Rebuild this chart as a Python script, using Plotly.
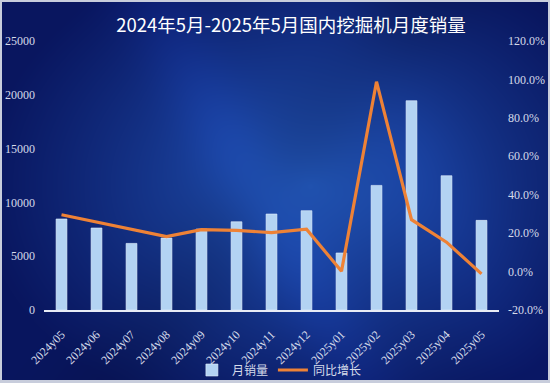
import base64
import struct
import zlib

import numpy as np
import plotly.graph_objects as go

# ---------------- data ----------------
months = ["2024y05", "2024y06", "2024y07", "2024y08", "2024y09", "2024y10", "2024y11",
          "2024y12", "2025y01", "2025y02", "2025y03", "2025y04", "2025y05"]
monthly_sales = [8460, 7620, 6190, 6690, 7525, 8200, 8920, 9230, 5300, 11580, 19450, 12480, 8330]
yoy_growth = [29.6, 25.8, 22.0, 18.2, 21.8, 21.4, 20.3, 22.1, 0.2, 98.8, 27.0, 15.3, -1.2]
left_ticks = [0, 5000, 10000, 15000, 20000, 25000]
right_ticks = [-20, 0, 20, 40, 60, 80, 100, 120]
right_tick_labels = ["-20.0%", "0.0%", "20.0%", "40.0%", "60.0%", "80.0%", "100.0%", "120.0%"]

W, H = 550, 383

# ---------------- background image (gradient) ----------------
yy, xx = np.mgrid[0:H, 0:W].astype(float)
dark = np.array([9, 22, 95], float)
bright = np.array([34, 86, 184], float)
d = np.sqrt(((xx - 310) / 330) ** 2 + ((yy - 185) / 250) ** 2)
t = np.clip(1 - d, 0, 1) ** 1.1
img = dark + (bright - dark) * t[..., None]
# soft diagonal streaks
u = xx - 0.55 * yy
streak = np.exp(-((u - 150) / 45) ** 2) * 0.12 + np.exp(-((u - 330) / 60) ** 2) * 0.06
img = img * (1 + streak[..., None])
shade = np.exp(-((xx + 0.8 * yy - 420) / 70) ** 2) * 0.10
img = img * (1 - shade[..., None])
img = np.clip(img, 0, 255).astype(np.uint8)
# light frame
img[:2, :, :] = [200, 205, 220]
img[-3:, :, :] = [200, 205, 220]
img[:, :2, :] = [200, 205, 220]
img[:, -2:, :] = [200, 205, 220]


def to_png(a):
    h, w, _ = a.shape
    raw = b"".join(b"\x00" + a[r].tobytes() for r in range(h))

    def chunk(tag, data):
        c = struct.pack(">I", len(data)) + tag + data
        return c + struct.pack(">I", zlib.crc32(tag + data) & 0xFFFFFFFF)

    return (b"\x89PNG\r\n\x1a\n" + chunk(b"IHDR", struct.pack(">IIBBBBB", w, h, 8, 2, 0, 0, 0))
            + chunk(b"IDAT", zlib.compress(raw, 9)) + chunk(b"IEND", b""))


bg_uri = "data:image/png;base64," + base64.b64encode(to_png(img)).decode()

# ---------------- figure ----------------
ml, mr, mt, mb = 44, 51, 41, 73
pw, ph = W - ml - mr, H - mt - mb

serif = "Liberation Serif, Noto Sans CJK SC, serif"
tick_color = "#d6dbea"

fig = go.Figure()
fig.add_trace(go.Bar(
    x=months, y=monthly_sales, name="月销量",
    marker=dict(color="#b3d3f3", line=dict(color="#e2eefb", width=0.6)),
    yaxis="y",
))
fig.add_trace(go.Scatter(
    x=months, y=yoy_growth, name="同比增长", mode="lines",
    line=dict(color="#ee8236", width=3.2),
    yaxis="y2",
))

fig.update_layout(
    width=W, height=H,
    margin=dict(l=ml, r=mr, t=mt, b=mb, autoexpand=False),
    paper_bgcolor="#0d2070",
    plot_bgcolor="rgba(0,0,0,0)",
    bargap=0.69,
    showlegend=True,
    title=dict(
        text="2024年5月-2025年5月国内挖掘机月度销量",
        x=291 / W, xanchor="center", y=1 - 26 / H, yanchor="middle",
        font=dict(family="Noto Sans CJK SC, serif", size=18.5, color="#ffffff"),
    ),
    legend=dict(
        orientation="h", x=0.508, xanchor="center", xref="container",
        y=1 - 370 / H, yanchor="middle", yref="container",
        font=dict(family="Noto Sans CJK SC", size=12, color=tick_color),
        bgcolor="rgba(0,0,0,0)", itemwidth=30, tracegroupgap=0,
    ),
    xaxis=dict(
        type="category", tickangle=-45, showgrid=False, automargin=False,
        showline=True, linecolor="#e8ecf5", linewidth=1.5,
        ticks="", ticklabelstandoff=11,
        tickfont=dict(family=serif, size=12, color=tick_color),
        zeroline=False,
    ),
    yaxis=dict(
        range=[0, 25000], tickvals=left_ticks, tickformat="d", automargin=False,
        showgrid=False, zeroline=False,
        showline=False, ticks="", ticklabelstandoff=8,
        tickfont=dict(family=serif, size=12, color=tick_color),
    ),
    yaxis2=dict(
        range=[-20, 120], tickvals=right_ticks, ticktext=right_tick_labels,
        overlaying="y", side="right", automargin=False,
        showgrid=False, zeroline=False, showline=False, ticks="",
        ticklabelstandoff=8,
        tickfont=dict(family=serif, size=12, color=tick_color),
    ),
    images=[dict(
        source=bg_uri, xref="paper", yref="paper",
        x=-ml / pw, y=1 + mt / ph, sizex=W / pw, sizey=H / ph,
        xanchor="left", yanchor="top", sizing="stretch", layer="below",
    )],
)

fig.write_html("out.html")
